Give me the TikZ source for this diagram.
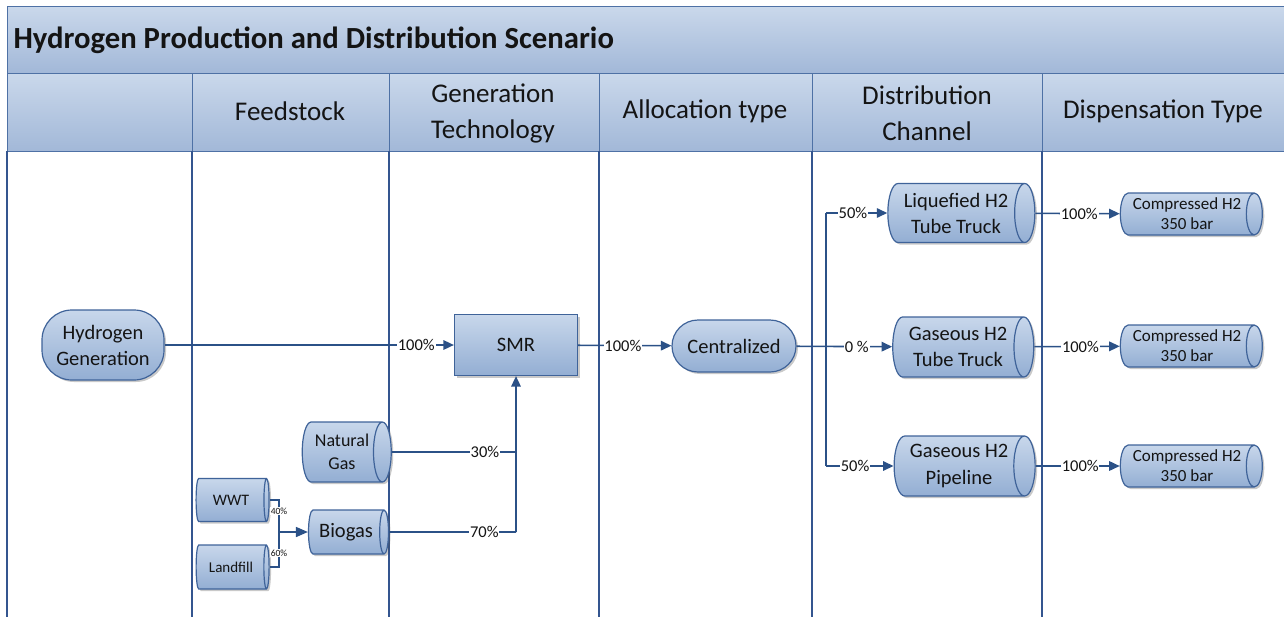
\documentclass[tikz,border=0pt]{standalone}
\usepackage{fontspec}
\setmainfont{Carlito}
\usetikzlibrary{shapes.geometric,shadows,arrows.meta,calc}
\definecolor{bandtop}{HTML}{CAD8EB}
\definecolor{bandbot}{HTML}{A2B8D8}
\definecolor{bandline}{HTML}{4E71A5}
\definecolor{nodetop}{HTML}{C8D7EB}
\definecolor{nodebot}{HTML}{93AED3}
\definecolor{nodeline}{HTML}{3F6399}
\definecolor{flow}{HTML}{2B5187}
\definecolor{lane}{HTML}{34558F}
\definecolor{ink}{HTML}{141414}
\newcommand{\fs}[1]{\fontsize{#1}{1.27\dimexpr #1pt\relax}\selectfont}
\begin{document}
\begin{tikzpicture}[x=1pt,y=-1pt,
  band/.style={draw=bandline, line width=1pt, top color=bandtop, bottom color=bandbot},
  head/.style={text=ink, align=center, font=\fs{27}},
  box/.style={draw=nodeline, line width=1.2pt, top color=nodetop, bottom color=nodebot,
    text=ink, align=center, inner sep=0pt, font=\fs{20.5},
    drop shadow={shadow xshift=2pt, shadow yshift=-2pt, opacity=0.3, fill=black!70}},
  rect/.style={box, rectangle, minimum width=#1},
  pill/.style={box, rectangle, rounded corners=#1},
  % a horizontal cylinder: length along the axis, then its diameter
  cyl/.style 2 args={box, cylinder, shape aspect=0.5, minimum height=#1, minimum width=#2},
  lab/.style={fill=white, inner sep=0.8pt, text=ink, font=\fs{16.5}},
  tinylab/.style={fill=white, inner sep=0.3pt, text=ink, font=\fs{9.5}},
  link/.style={draw=flow, line width=1.6pt},
  arr/.style={link, -{Triangle[length=10.5pt,width=9.5pt]}},
  lanel/.style={draw=lane, line width=1.1pt}]
\useasboundingbox (0,0) rectangle (1284,616);

% title band and column headers
\path[band] (7,6) rectangle (1292,73);
\node[anchor=west, text=ink, font=\bfseries\fs{30.7}] (title) at (10,40) {Hydrogen Production and Distribution Scenario};
\path[band] (7,73) rectangle (192,151);
\path[band] (192,73) rectangle (389,151);
\path[band] (389,73) rectangle (599,151);
\path[band] (599,73) rectangle (812,151);
\path[band] (812,73) rectangle (1042,151);
\path[band] (1042,73) rectangle (1292,151);
\node[head] (h1) at (290,111) {Feedstock};
\node[head, font=\fontsize{27}{36}\selectfont] (h2) at (493,113) {Generation\\Technology};
\node[head] (h3) at (705,111) {Allocation type};
\node[head, font=\fontsize{27}{36}\selectfont] (h4) at (927,113) {Distribution\\Channel};
\node[head] (h5) at (1163,111) {Dispensation Type};

% swim lanes
\foreach \x in {7,192,389,599,812,1042}
  \draw[lanel] (\x,151) -- (\x,620);

% process nodes
\node[pill=30pt, minimum width=122pt, minimum height=70pt] (hg) at (103,345) {Hydrogen\\Generation};
\node[rect=123pt, minimum height=61pt] (smr) at (516,345) {SMR};
\node[pill=26pt, minimum width=124pt, minimum height=52pt] (cen) at (734,346) {Centralized};
\node[cyl={147pt}{59pt}] (liq) at (956,213) {Liquefied H2\\Tube Truck};
\node[cyl={141pt}{60pt}] (gtt) at (958,347) {Gaseous H2\\Tube Truck};
\node[cyl={141pt}{60pt}] (pipe) at (959,466) {Gaseous H2\\Pipeline};
\node[cyl={142pt}{42pt}, font=\fontsize{17}{20}\selectfont] (c1) at (1187,214) {Compressed H2\\350 bar};
\node[cyl={142pt}{42pt}, font=\fontsize{17}{20}\selectfont] (c2) at (1187,346) {Compressed H2\\350 bar};
\node[cyl={142pt}{42pt}, font=\fontsize{17}{20}\selectfont] (c3) at (1187,466) {Compressed H2\\350 bar};
\node[cyl={89pt}{60pt}, font=\fs{18}] (ng) at (342,452) {Natural\\Gas};
\node[cyl={80pt}{44pt}] (bio) at (346,532) {Biogas};
\node[cyl={73pt}{43pt}, font=\fs{16}] (wwt) at (231,500) {WWT};
\node[cyl={73pt}{44pt}, font=\fs{15}] (land) at (231,567) {Landfill};

% junction points
\coordinate (ngj) at (516,452);
\coordinate (bioj) at (516,532);
\coordinate (djt) at (826,213);
\coordinate (djb) at (826,466);
\coordinate (fj) at (279,532);

% connectors
\draw[arr] (hg) -- node[lab, pos=0.87] {100\%} (smr);
\draw[arr] (smr) -- node[lab, pos=0.48] {100\%} (cen);
\draw[link] (ng.east) -- node[lab, pos=0.75] {30\%} (ngj);
\draw[link] (bio.east) -- node[lab, pos=0.75] {70\%} (bioj);
\draw[arr] (bioj) -- (smr.south);
\draw[arr] (cen) -- node[lab, pos=0.63] {0 \%} (gtt);
\draw[link] (djt) -- (djb);
\draw[arr] (djt) -- node[lab, pos=0.44] {50\%} (liq);
\draw[arr] (djb) -- node[lab, pos=0.43] {50\%} (pipe);
\draw[arr] (liq) -- node[lab, pos=0.52] {100\%} (c1);
\draw[arr] (gtt) -- node[lab, pos=0.54] {100\%} (c2);
\draw[arr] (pipe) -- node[lab, pos=0.53] {100\%} (c3);
\draw[link, line width=1.2pt] (wwt.east) -| (fj) |- (land.east);
\node[tinylab] (p40) at (279,511) {40\%};
\node[tinylab] (p60) at (279,553) {60\%};
\draw[link, -{Triangle[length=12pt,width=10pt]}] (fj) -- (bio.west);
\end{tikzpicture}
\end{document}
